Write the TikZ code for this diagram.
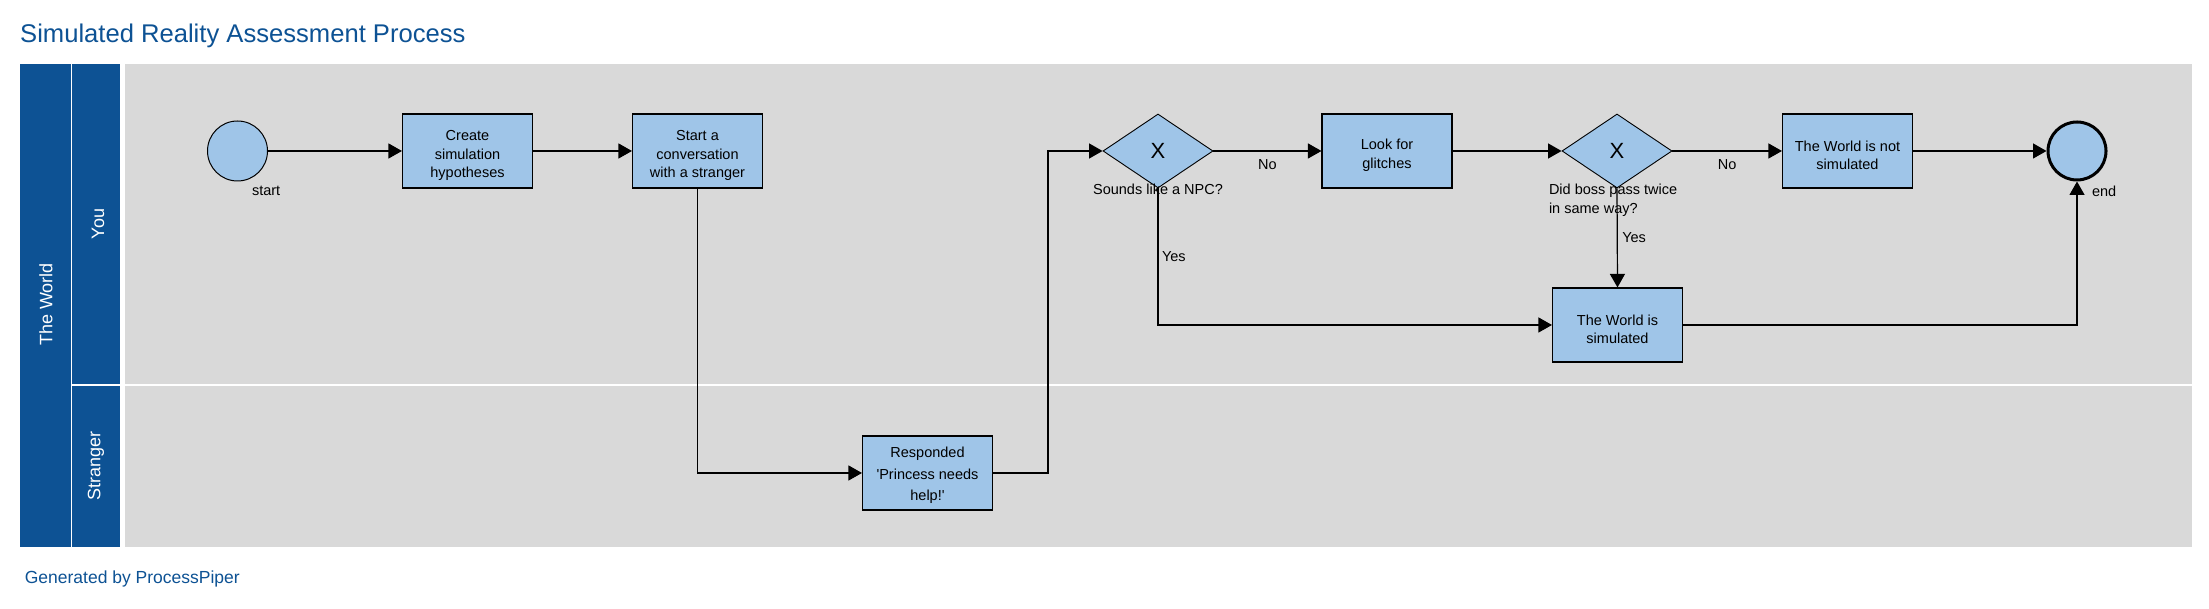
\documentclass[tikz,border=0pt]{standalone}
\usepackage{fontspec}
\setmainfont{Liberation Sans}
\usepackage{xcolor}
\usepackage{tikz}
\usetikzlibrary{arrows.meta}
\usetikzlibrary{shapes.geometric}
\definecolor{poolBlue}{RGB}{13,82,148}
\definecolor{taskFill}{RGB}{159,197,232}
\definecolor{laneGray}{RGB}{217,217,217}
\newcommand{\boxstrut}[1][19.4pt]{\rule{0pt}{#1}}
\tikzset{arrow/.style = {-{Triangle[length = 13.5pt, width = 15pt]}, line width = 1.2pt}}
\tikzset{task/.style = {draw = black, line width = 1.1pt, fill = taskFill, minimum width = 130pt, minimum height = 74pt, inner sep = 0pt, align = center, font = \fontsize{14.5}{18.5}\selectfont}}
\tikzset{gateway/.style = {diamond, draw = black, line width = 0.9pt, fill = taskFill, minimum width = 110pt, minimum height = 74pt, inner sep = 0pt, font = \fontsize{22}{24}\selectfont}}
\tikzset{event/.style = {circle, draw = black, line width = 1pt, fill = taskFill, minimum size = 60pt, inner sep = 0pt}}
\tikzset{note/.style = {inner sep = 0pt, outer sep = 0pt, text = black, font = \fontsize{14.5}{18.5}\selectfont}}
\tikzset{lanelabel/.style = {rotate = 90, inner sep = 0pt, text = white, font = \fontsize{18}{20}\selectfont}}

\begin{document}
\begin{tikzpicture}[x=1pt,y=1pt]
\path[use as bounding box,fill=white] (0,0) rectangle (2209,609);

% pool and lanes
\path[fill=poolBlue] ( 20, 62) rectangle ( 71,545);
\path[fill=poolBlue] ( 72, 62) rectangle (120,545);
\path[fill=laneGray] (125, 62) rectangle (2192,545);
\path[draw=white,line width= 1.5pt] ( 72,224) -- (2192,224);

\node[lanelabel] (pool) at ( 46,304.5) {The World};
\node[lanelabel] (laneyou) at ( 98,385) {You};
\node[lanelabel] (lanestranger) at ( 96,143) {Stranger};

\node[anchor=base west,inner sep=0pt,text=poolBlue,font=\fontsize{25.6}{28}\selectfont] (title) at ( 20,566) {Simulated Reality Assessment Process};
\node[anchor=base west,inner sep=0pt,text=poolBlue,font=\fontsize{17.5}{20}\selectfont] (footer) at ( 24.6, 25) {Generated by ProcessPiper};

% flow elements
\node[event] (start) at (237.5,458) {};
\node[task] (create) at (467.5,458) {\boxstrut Create\\simulation\\hypotheses};
\node[task] (convo) at (697.5,458) {\boxstrut Start a\\conversation\\with a stranger};
\node[task,font=\fontsize{14.5}{21.5}\selectfont] (respond) at (927.5,136) {\boxstrut[16pt]Responded\\\textquotesingle Princess needs\\help!\textquotesingle};
\node[gateway] (npc) at (1158,458) {X};
\node[task] (glitch) at (1387,458) {\boxstrut Look for\\glitches};
\node[gateway] (boss) at (1617,458) {X};
\node[task] (notsim) at (1847.5,458) {\boxstrut The World is not\\simulated};
\node[task] (sim) at (1617.5,284) {\boxstrut The World is\\simulated};
\node[event,minimum size=58pt,line width=3pt] (end) at (2077,458) {};

\node[note,anchor=base west] (startlabel) at ([xshift=14.5pt,yshift=-14pt]start.south) {start};
\node[note,anchor=base west] (endlabel) at ([xshift=15pt,yshift=-15pt]end.south) {end};
\node[note,anchor=north] (npcquestion) at ([yshift=4pt]npc.south) {Sounds like a NPC?};
\node[note,anchor=north west,align=left] (bossquestion) at ([xshift=-68pt,yshift=4pt]boss.south) {Did boss pass twice\\in same way?};

% connectors
\draw[arrow] (start) -- (create);
\draw[arrow] (create) -- (convo);
\draw[arrow] (convo.south) |- (respond.west);
\draw[arrow] (respond.east) -- ++(55,0) |- (npc.west);
\draw[arrow] (npc.east) -- node[note,below=9pt] (npcno) {No} (glitch.west);
\draw[arrow] (npc.south) |- node[note,pos=0.25,right=4pt] (npcyes) {Yes} (sim.west);
\draw[arrow] (glitch) -- (boss);
\draw[arrow] (boss.east) -- node[note,below=9pt] (bossno) {No} (notsim.west);
\draw[arrow] (boss.south) -- node[note,right=5pt] (bossyes) {Yes} (sim.north);
\draw[arrow] (notsim) -- (end);
\draw[arrow] (sim.east) -| (end.south);
\end{tikzpicture}
\end{document}
